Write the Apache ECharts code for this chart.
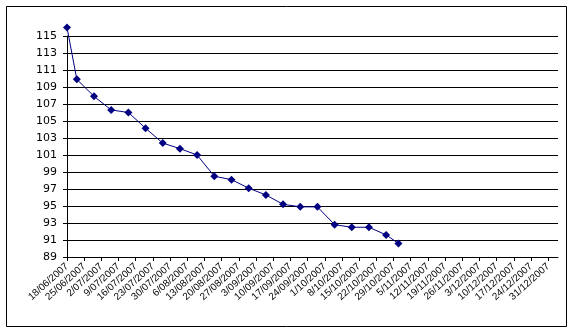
<!DOCTYPE html>
<html>
<head>
<meta charset="utf-8">
<script src="https://cdn.jsdelivr.net/npm/echarts@6/dist/echarts.min.js"></script>
<style>
html,body{margin:0;padding:0;background:#fff;}
#chart{width:574px;height:333px;}
</style>
</head>
<body>
<div id="chart"></div>
<script>
// ---- data ----
var pointDates = ['18/06/2007','22/06/2007','29/06/2007','6/07/2007','13/07/2007','20/07/2007','27/07/2007',
  '3/08/2007','10/08/2007','17/08/2007','24/08/2007','31/08/2007','7/09/2007','14/09/2007','21/09/2007',
  '28/09/2007','5/10/2007','12/10/2007','19/10/2007','26/10/2007','31/10/2007'];
var values = [116.0, 109.9, 107.9, 106.3, 106.0, 104.15, 102.4, 101.75, 101.0, 98.5, 98.1, 97.1, 96.3, 95.2,
  94.9, 94.9, 92.8, 92.5, 92.5, 91.6, 90.6];
var tickLabels = ['18/06/2007','25/06/2007','2/07/2007','9/07/2007','16/07/2007','23/07/2007','30/07/2007',
  '6/08/2007','13/08/2007','20/08/2007','27/08/2007','3/09/2007','10/09/2007','17/09/2007','24/09/2007',
  '1/10/2007','8/10/2007','15/10/2007','22/10/2007','29/10/2007','5/11/2007','12/11/2007','19/11/2007',
  '26/11/2007','3/12/2007','10/12/2007','17/12/2007','24/12/2007','31/12/2007'];
var yMin = 89, yMax = 115, yStep = 2;
var axisEndDays = 200; // axis runs a few days past the last labelled tick

function toUTC(s){ var p = s.split('/'); return Date.UTC(+p[2], +p[1]-1, +p[0]); }
var start = toUTC(tickLabels[0]);
var seriesData = pointDates.map(function(d, i){
  return [(toUTC(d) - start) / 86400000, values[i] - yMin];
});

var chart = echarts.init(document.getElementById('chart'));
chart.setOption({
  animation: false,
  backgroundColor: '#ffffff',
  textStyle: { fontFamily: 'DejaVu Sans' },
  graphic: [{
    type: 'rect', shape: { x: 6.5, y: 6.5, width: 560, height: 320 },
    style: { fill: 'none', stroke: '#000', lineWidth: 1 }
  }],
  grid: { left: 67, right: 16, top: 36, bottom: 76, containLabel: false },
  xAxis: {
    type: 'value', min: 0, max: axisEndDays, interval: 7,
    axisLine: { show: true, lineStyle: { color: '#000', width: 1 } },
    axisTick: { show: true, length: 4, lineStyle: { color: '#000' } },
    splitLine: { show: false },
    axisLabel: {
      rotate: 42, margin: 8, color: '#000', fontSize: 10, fontFamily: 'Liberation Sans',
      showMaxLabel: false,
      formatter: function(v){ var i = v / 7; return (i % 1 === 0 && i < tickLabels.length) ? tickLabels[i] : ''; }
    }
  },
  yAxis: {
    type: 'value', min: 0, max: yMax - yMin, interval: yStep,
    axisLine: { show: true, lineStyle: { color: '#000', width: 1 } },
    axisTick: { show: true, length: 4, lineStyle: { color: '#000' } },
    splitLine: { show: true, lineStyle: { color: '#000', width: 1 } },
    axisLabel: {
      margin: 10, color: '#000', fontSize: 11, fontFamily: 'DejaVu Sans',
      formatter: function(v){ return String(v + yMin); }
    }
  },
  series: [{
    type: 'line', data: seriesData, clip: false,
    symbol: 'diamond', symbolSize: 8,
    lineStyle: { color: '#000080', width: 1 },
    itemStyle: { color: '#000080' }
  }]
});
</script>
</body>
</html>
